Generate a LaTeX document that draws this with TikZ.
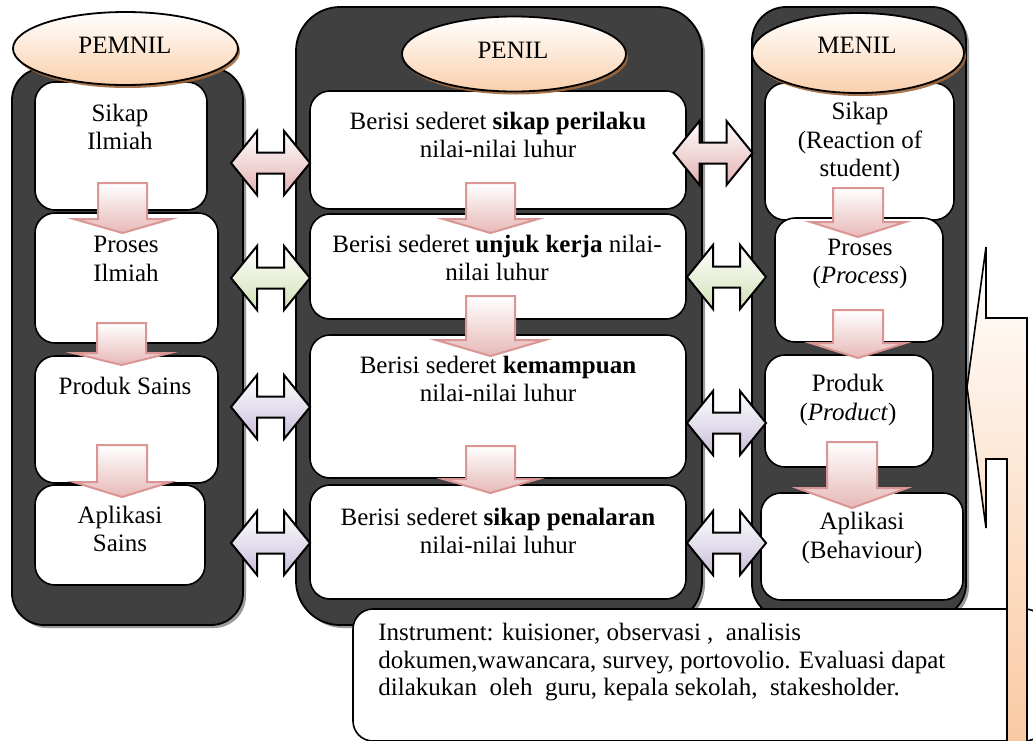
\documentclass[tikz,border=0pt]{standalone}
\usepackage{fontspec}
\setmainfont{Liberation Serif}
\usetikzlibrary{shapes.geometric,shadows,fit}
\definecolor{darkcol}{HTML}{404040}
\definecolor{colshadow}{HTML}{9A9A9A}
\definecolor{peach}{HTML}{FAD0AC}
\definecolor{ellshadow}{HTML}{A0693C}
\definecolor{dpfill}{HTML}{E6B9B8}
\definecolor{dpline}{HTML}{D99694}
\definecolor{dpshadow}{HTML}{C9A0A0}
\definecolor{lrpinkc}{HTML}{E2B0B0}
\definecolor{lrpinksh}{HTML}{943634}
\definecolor{lrgreenc}{HTML}{D2E0B6}
\definecolor{lrgreensh}{HTML}{4F6228}
\definecolor{lrpurplec}{HTML}{C9BEDA}
\definecolor{lrpurplesh}{HTML}{3F3151}
\definecolor{callpeach}{HTML}{FAC9A2}
\begin{document}
\begin{tikzpicture}[x=0.5pt,y=-0.5pt,
  every node/.style={font=\fontsize{12.5}{14.4}\selectfont},
  column/.style={draw=black, line width=0.9pt, fill=darkcol, rounded corners=#1, inner sep=0pt,
    drop shadow={shadow xshift=1.5pt, shadow yshift=-1.5pt, fill=colshadow, opacity=1}},
  wbox/.style={draw=black, fill=white, line width=0.8pt, rounded corners=10pt, inner sep=0pt},
  ell/.style={ellipse, draw=black, line width=0.9pt, top color=white, bottom color=peach, inner sep=0pt,
    drop shadow={shadow xshift=1pt, shadow yshift=-1.5pt, fill=ellshadow, opacity=0.9}},
  txt/.style={align=center, inner sep=0pt},
  darrow/.style={draw=dpline, line width=1pt, top color=white, bottom color=dpfill,
    drop shadow={shadow xshift=0.8pt, shadow yshift=-0.8pt, fill=dpshadow, opacity=0.7}},
  lrpink/.style={draw=black, line width=1pt, top color=white, bottom color=lrpinkc,
    drop shadow={shadow xshift=1pt, shadow yshift=-1pt, fill=lrpinksh, opacity=0.7}},
  lrgreen/.style={draw=black, line width=1pt, top color=white, bottom color=lrgreenc,
    drop shadow={shadow xshift=1pt, shadow yshift=-1pt, fill=lrgreensh, opacity=0.7}},
  lrpurple/.style={draw=black, line width=1pt, top color=white, bottom color=lrpurplec,
    drop shadow={shadow xshift=1pt, shadow yshift=-1pt, fill=lrpurplesh, opacity=0.7}},
  callout/.style={draw=black, line width=0.8pt, top color=white, bottom color=callpeach},
  pics/darr/.style args={#1/#2/#3/#4}{code={%
    \path[pic actions] (-#1,0) -- (#1,0) -- (#1,#2) -- (#3,#2) -- (0,#4) -- (-#3,#2) -- (-#1,#2) -- cycle;}},
  pics/lrarr/.style={code={%
    \path[pic actions] (-39.5,0) -- (-13.5,-32) -- (-13.5,-10.5) -- (13.5,-10.5) -- (13.5,-32)
      -- (39.5,0) -- (13.5,32) -- (13.5,10.5) -- (-13.5,10.5) -- (-13.5,32) -- cycle;}}
]
\useasboundingbox (0,0) rectangle (1033,740);
\clip (0,0) rectangle (1033,740);

% dark columns
\node[column=16pt, fit={(12,68) (243,625)}] (colL) {};
\node[column=22pt, fit={(296,7) (702,625)}] (colM) {};
\node[column=17pt, fit={(752,7) (966,618)}] (colR) {};

% white boxes
\node[wbox, fit={(35,82) (207,210)}] (L1) {};
\node[wbox, fit={(35,213) (218,343)}] (L2) {};
\node[wbox, fit={(35,356) (218,483)}] (L3) {};
\node[wbox, fit={(35,485) (205,585)}] (L4) {};
\node[wbox, fit={(310,91) (686,209)}] (M1) {};
\node[wbox, fit={(310,214) (686,319)}] (M2) {};
\node[wbox, fit={(310,335) (686,478)}] (M3) {};
\node[wbox, fit={(310,485) (686,599)}] (M4) {};
\node[wbox, fit={(765,83) (954,220)}] (R1) {};
\node[wbox, fit={(775,218) (943,342)}] (R2) {};
\node[wbox, fit={(765,355) (933,467)}] (R3) {};
\node[wbox, fit={(761,493) (963,600)}] (R4) {};

% ellipses
\node[ell, minimum width=112.5pt, minimum height=36.5pt] (pemnil) at (125.5,48.5) {};
\node[ell, minimum width=112pt, minimum height=37.5pt] (penil) at (514,54) {};
\node[ell, minimum width=106pt, minimum height=40pt] (menil) at (858,53) {};

% down arrows
\pic[darrow] (DL1) at (122.5,183) {darr=24.5/36/48.5/50};
\pic[darrow] (DL2) at (121.5,323) {darr=24.5/30/48.5/42};
\pic[darrow] (DL3) at (122,445) {darr=25/37/48.5/52};
\pic[darrow] (DM1) at (490.5,183) {darr=24.5/36/47.5/50};
\pic[darrow] (DM2) at (490.5,296) {darr=24.5/44/54.5/60};
\pic[darrow] (DM3) at (490.5,446) {darr=24.5/33/47.5/47};
\pic[darrow] (DR1) at (858,188) {darr=25/34/47.5/49};
\pic[darrow] (DR2) at (858,310) {darr=25/33/47.5/48};
\pic[darrow] (DR3) at (852,442) {darr=25/46/55/66};

% double arrows
\pic[lrpink] (A1) at (270.5,163) {lrarr};
\pic[lrgreen] (A2) at (270.5,278) {lrarr};
\pic[lrpurple] (A3) at (270.5,407) {lrarr};
\pic[lrpurple] (A4) at (270.5,543) {lrarr};
\pic[lrpink] (B1) at (713,153) {lrarr};
\pic[lrgreen] (B2) at (726.5,277) {lrarr};
\pic[lrpurple] (B3) at (726.5,423) {lrarr};
\pic[lrpurple] (B4) at (726.5,543) {lrarr};

% texts
\node[txt] (pemnilT) at (125,45) {PEMNIL};
\node[txt] (penilT) at (513,50) {PENIL};
\node[txt] (menilT) at (857,45) {MENIL};
\node[txt] (L1T) at (120,127) {Sikap\\Ilmiah};
\node[txt] (L2T) at (126,259) {Proses\\Ilmiah};
\node[txt] (L3T) at (125,386) {Produk Sains};
\node[txt] (L4T) at (120,529) {Aplikasi\\Sains};
\node[txt] (M1T) at (498,135) {Berisi sederet \textbf{sikap perilaku}\\nilai-nilai luhur};
\node[txt] (M2T) at (497,258) {Berisi sederet \textbf{unjuk kerja} nilai-\\nilai luhur};
\node[txt] (M3T) at (498,379) {Berisi sederet \textbf{kemampuan}\\nilai-nilai luhur};
\node[txt] (M4T) at (498,531) {Berisi sederet \textbf{sikap penalaran}\\nilai-nilai luhur};
\node[txt] (R1T) at (860,142) {Sikap\\(Reaction of\\student)};
\node[txt] (R2T) at (860,264) {Proses\\(\textit{Process})};
\node[txt] (R3T) at (848,400) {Produk\\(\textit{Product})};
\node[txt] (R4T) at (862,538) {Aplikasi\\(Behaviour)};

% instrument box
\node[wbox, fit={(353,609) (1045,741)}] (instr) {};
\node[anchor=north west, align=left, inner sep=0pt, font=\fontsize{12.5}{13.8}\selectfont] (instrT) at (378,623)
  {Instrument: kuisioner, observasi ,\ \ analisis\\dokumen,wawancara, survey, portovolio. Evaluasi dapat\\dilakukan\ \ oleh\ \ guru, kepala sekolah,\ \ stakesholder.};

% callout
\path[callout] (1027,318) -- (986,318) -- (986,247) -- (967,387) -- (986,528) -- (986,459)
  -- (1007,459) -- (1007,745) -- (1027,745) -- cycle;
\end{tikzpicture}
\end{document}
